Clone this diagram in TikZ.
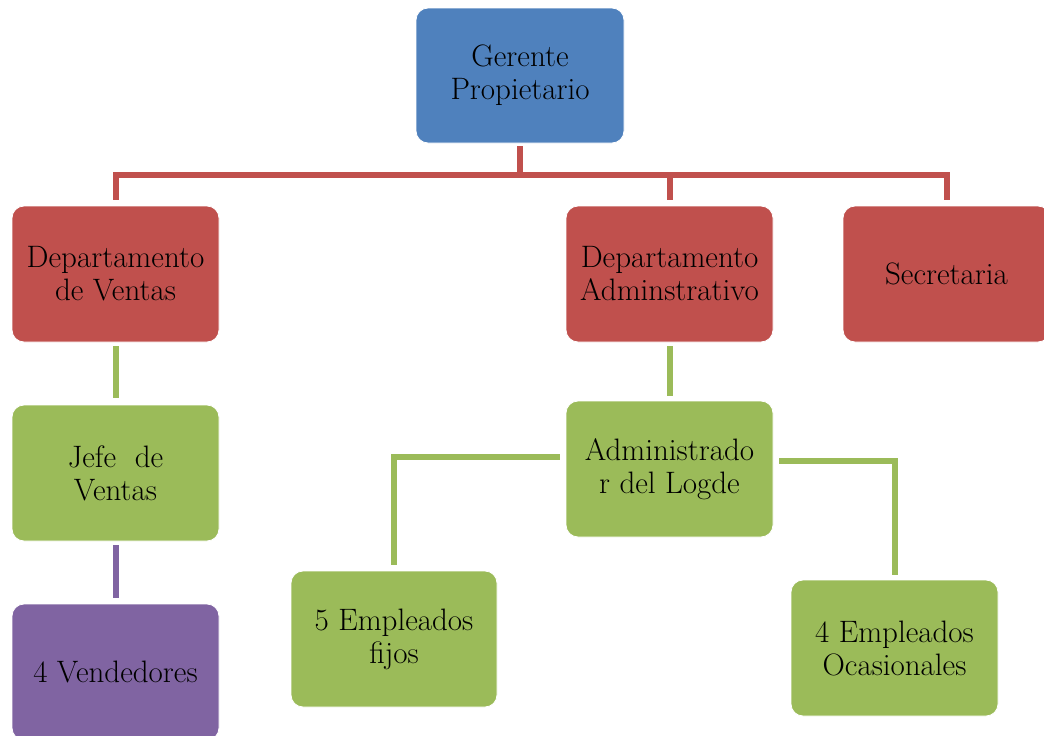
\documentclass[tikz,border=0pt]{standalone}
\usetikzlibrary{calc}
\definecolor{cblue}{HTML}{4F81BD}
\definecolor{cred}{HTML}{C0504D}
\definecolor{cgreen}{HTML}{9BBB59}
\definecolor{cpurple}{HTML}{8064A2}
\tikzset{
  box/.style={rectangle, rounded corners=12pt, minimum width=207pt, minimum height=136pt,
    draw=white, line width=0.8pt, align=center, text=black, inner sep=2pt,
    font=\fontsize{31}{33}\selectfont},
  bluebox/.style={box, fill=cblue},
  redbox/.style={box, fill=cred},
  greenbox/.style={box, fill=cgreen},
  purplebox/.style={box, fill=cpurple},
  conn/.style={line width=6pt, line join=miter},
  redline/.style={conn, draw=cred},
  greenline/.style={conn, draw=cgreen},
  purpleline/.style={conn, draw=cpurple},
}
\begin{document}
\begin{tikzpicture}[x=1pt,y=-1pt]
\useasboundingbox (0,0) rectangle (1044,736);
\fill[white] (0,0) rectangle (1044,736);
\node[bluebox, minimum width=208pt, minimum height=135pt] (G) at (520,75.5) {Gerente\\Propietario};
\node[redbox] (DV) at (115.5,274) {Departamento\\de Ventas};
\node[redbox] (DA) at (669.5,274) {Departamento\\Adminstrativo};
\node[redbox] (S) at (946.5,274) {Secretaria};
\node[greenbox] (JV) at (115.5,473) {Jefe\ \ de\\Ventas};
\node[purplebox] (V) at (115.5,672) {4 Vendedores};
\node[greenbox] (AL) at (669.5,469) {Administrado\\r del Logde};
\node[greenbox, minimum width=206pt] (EF) at (394,639) {5 Empleados\\fijos};
\node[greenbox] (EO) at (894.5,648) {4 Empleados\\Ocasionales};

\draw[redline, shorten <=3pt, shorten >=6pt] (G.south) -- ++(0,32) -| (DV.north);
\draw[redline, shorten <=3pt, shorten >=6pt] (G.south) -- ++(0,32) -| (DA.north);
\draw[redline, shorten <=3pt, shorten >=6pt] (G.south) -- ++(0,32) -| (S.north);
\draw[greenline, shorten <=4pt, shorten >=7pt] (DV.south) -- (JV.north);
\draw[purpleline, shorten <=4pt, shorten >=6pt] (JV.south) -- (V.north);
\draw[greenline, shorten <=4pt, shorten >=5pt] (DA.south) -- (AL.north);
\draw[greenline, shorten <=6pt, shorten >=6pt] ([yshift=12pt]AL.west) -| (EF.north);
\draw[greenline, shorten <=6pt, shorten >=5pt] ([yshift=8pt]AL.east) -| (EO.north);
\end{tikzpicture}
\end{document}
